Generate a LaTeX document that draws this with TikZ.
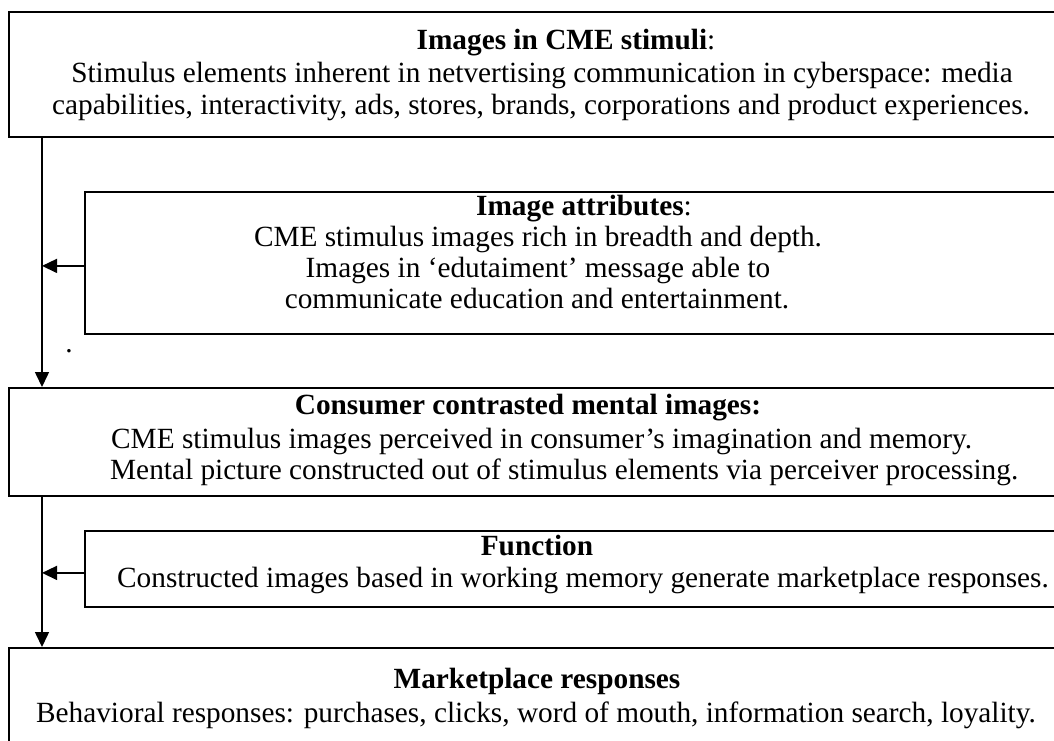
\documentclass[tikz,border=0pt]{standalone}
\usepackage{fontspec}
\setmainfont{Liberation Serif}
\usetikzlibrary{arrows.meta,positioning,calc}

\tikzset{
  panel/.style={draw, line width=1.8pt, rectangle, anchor=north west, inner sep=0pt, minimum width=1100pt},
  head/.style={font=\fontsize{29.3}{32}\selectfont\bfseries, anchor=base, inner sep=0pt},
  txt/.style={font=\fontsize{29.3}{32}\selectfont, anchor=base, inner sep=0pt},
  flow/.style={line width=1.5pt, -{Triangle[length=15pt,width=14pt]}},
}

\begin{document}
\begin{tikzpicture}[x=1pt,y=-1pt]
\clip (0,0) rectangle (1054,740);

% the five boxes, cut off on the right
\node[panel, minimum height=125pt] (stimuli) at (8,11) {};
\node[panel, minimum height=142pt] (attrib) at (84,191) {};
\node[panel, minimum height=108pt] (mental) at (8,387) {};
\node[panel, minimum height=76pt] (func) at (84,530) {};
\node[panel, minimum height=120pt] (market) at (8,647) {};

% texts
\node[head] (stimuli-h) at (566,49) {Images in CME stimuli\textmd{:}};
\node[txt] (stimuli-a) at (542,82) {Stimulus elements inherent in netvertising communication in cyberspace: media};
\node[txt] (stimuli-b) at (541,114) {capabilities, interactivity, ads, stores, brands, corporations and product experiences.};

\node[head] (attrib-h) at (584,215) {Image attributes\textmd{:}};
\node[txt] (attrib-a) at (538,246) {CME stimulus images rich in breadth and depth.};
\node[txt] (attrib-b) at (538,277) {Images in ‘edutaiment’ message able to};
\node[txt] (attrib-c) at (537,308) {communicate education and entertainment.};

\node[head] (mental-h) at (528,414) {Consumer contrasted mental images:};
\node[txt, anchor=base west] (mental-a) at (111,448) {CME stimulus images perceived in consumer’s imagination and memory.};
\node[txt, anchor=base west] (mental-b) at (110,479) {Mental picture constructed out of stimulus elements via perceiver processing.};

\node[head] (func-h) at (537,555) {Function};
\node[txt] (func-a) at (583,587) {Constructed images based in working memory generate marketplace responses.};

\node[head] (market-h) at (537,688) {Marketplace responses};
\node[txt] (market-a) at (536,722) {Behavioral responses: purchases, clicks, word of mouth, information search, loyality.};

\node[txt] (dot) at (69,352) {.};

% connectors
\coordinate (spine) at ([xshift=34pt]stimuli.south west);
\coordinate (spine2) at ([xshift=34pt]mental.south west);
\draw[flow] (spine) -- (spine |- mental.north);
\draw[flow] ([yshift=-3pt]attrib.west) -- ([yshift=-3pt]attrib.west -| spine);
\draw[flow] (spine2) -- (spine2 |- market.north);
\draw[flow] ([yshift=-4pt]func.west) -- ([yshift=-4pt]func.west -| spine2);
\end{tikzpicture}
\end{document}
